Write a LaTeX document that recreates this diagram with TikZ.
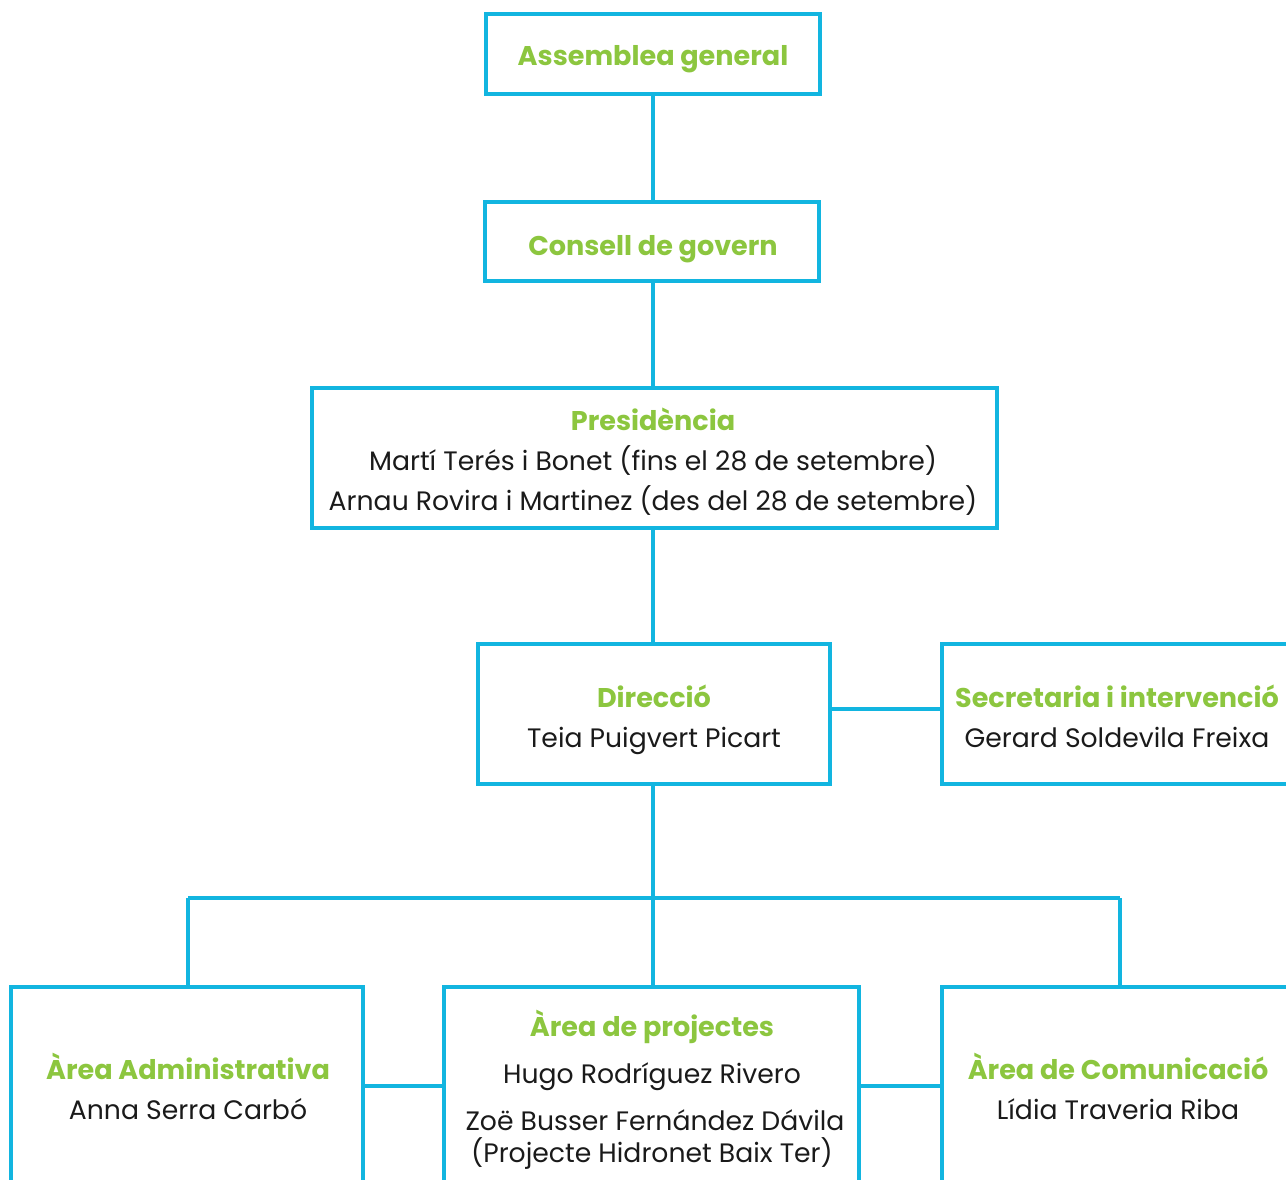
\documentclass[tikz,border=0pt]{standalone}
\usepackage{fontspec}
\setmainfont{Poppins}
\usetikzlibrary{fit}
\definecolor{lineblue}{HTML}{12B5E0}
\definecolor{headgreen}{HTML}{8CC63F}
\definecolor{txt}{HTML}{1A1A1A}
\tikzset{
  orgbox/.style={draw=lineblue, line width=2.3pt, inner sep=0pt},
  conn/.style={draw=lineblue, line width=2.3pt},
  headtext/.style={anchor=base, inner sep=0pt, text=headgreen, font=\fontsize{20.3}{24}\selectfont\bfseries},
  persontext/.style={anchor=base, inner sep=0pt, text=txt, font=\fontsize{20}{24}\selectfont},
}
\begin{document}
\begin{tikzpicture}[x=0.75pt, y=-0.75pt]
\useasboundingbox (0,0) rectangle (1286,1180);
\clip (0,0) rectangle (1286,1180);
% boxes
\node[orgbox, fit={(486,14) (820,94)}] (ass) {};
\node[orgbox, fit={(485,202) (819,281)}] (con) {};
\node[orgbox, fit={(312,388) (997,528)}] (pre) {};
\node[orgbox, fit={(478,644) (830,784)}] (dir) {};
\node[orgbox, fit={(942,644) (1296,784)}] (sec) {};
\node[orgbox, fit={(11,987) (363,1220)}] (adm) {};
\node[orgbox, fit={(444,987) (859,1220)}] (pro) {};
\node[orgbox, fit={(942,987) (1298,1220)}] (com) {};
% texts
\node[headtext] (t1) at (653,66) {Assemblea general};
\node[headtext] (t2) at (653,256) {Consell de govern};
\node[headtext] (t3) at (653,431) {Presidència};
\node[persontext] (t4) at (653,471) {Martí Terés i Bonet (fins el 28 de setembre)};
\node[persontext] (t5) at (653,511) {Arnau Rovira i Martinez (des del 28 de setembre)};
\node[headtext] (t6) at (654,707) {Direcció};
\node[persontext] (t7) at (654,747) {Teia Puigvert Picart};
\node[headtext] (t8) at (1117,707) {Secretaria i intervenció};
\node[persontext] (t9) at (1117,747) {Gerard Soldevila Freixa};
\node[headtext] (t10) at (188,1079) {Àrea Administrativa};
\node[persontext] (t11) at (188,1119) {Anna Serra Carbó};
\node[headtext] (t12) at (652,1036) {Àrea de projectes};
\node[persontext] (t13) at (652,1083) {Hugo Rodríguez Rivero};
\node[persontext] (t14) at (655,1130) {Zoë Busser Fernández Dávila};
\node[persontext] (t15) at (652,1162) {(Projecte Hidronet Baix Ter)};
\node[headtext] (t16) at (1118,1079) {Àrea de Comunicació};
\node[persontext] (t17) at (1118,1119) {Lídia Traveria Riba};
% connectors
\coordinate (bus) at (653,898);
\coordinate (busL) at (188,898);
\coordinate (busR) at (1120,898);
\draw[conn] (bus |- ass.south) -- (bus |- con.north);
\draw[conn] (bus |- con.south) -- (bus |- pre.north);
\draw[conn] (bus |- pre.south) -- (bus |- dir.north);
\draw[conn] (bus |- dir.south) -- (bus);
\draw[conn] (busL) -- (busR);
\draw[conn] (busL) -- (busL |- adm.north);
\draw[conn] (bus) -- (bus |- pro.north);
\draw[conn] (busR) -- (busR |- com.north);
\draw[conn] (dir.east |- 0,709) -- (sec.west |- 0,709);
\draw[conn] (adm.east |- 0,1086) -- (pro.west |- 0,1086);
\draw[conn] (pro.east |- 0,1086) -- (com.west |- 0,1086);
\end{tikzpicture}
\end{document}
